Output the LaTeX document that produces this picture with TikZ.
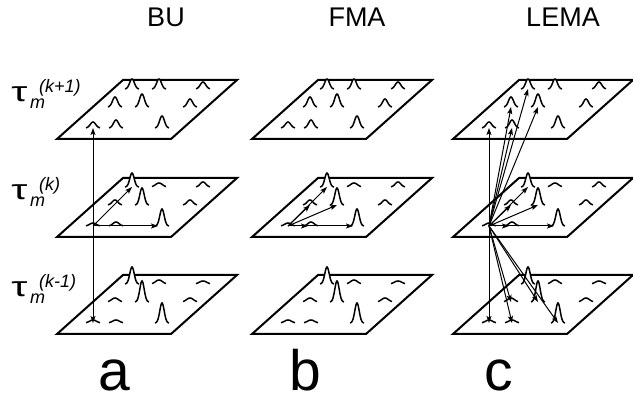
\documentclass[tikz,border=0pt]{standalone}
\usepackage{fontspec}
\setmainfont{Liberation Sans}
\usetikzlibrary{arrows.meta}
\tikzset{
  plane/.style={line width=2pt, line join=miter},
  peak/.style={line width=1.5pt},
  arr/.style={line width=1pt, -{Stealth[length=7pt,width=5pt,inset=1.5pt]}},
  head/.style={font=\fontsize{27}{30}\selectfont, anchor=base, inner sep=0pt},
  big/.style={font=\fontsize{57}{60}\selectfont, anchor=base, inner sep=0pt, text depth=0pt},
  taulab/.style={font=\fontsize{28}{30}\selectfont, anchor=base west, inner sep=0pt, xscale=1.45},
  sublab/.style={font=\fontsize{18}{19}\selectfont\itshape, anchor=base west, inner sep=0pt},
}
\newcommand{\pk}[4]{%
  \fill[white] plot[domain=-7:7,samples=29,smooth] ({#1+\x},{#2-(#3)*exp(-(\x)*(\x)/(2*(#4)*(#4)))}) -- cycle;
  \draw[peak] plot[domain=-7:7,samples=29,smooth] ({#1+\x},{#2-(#3)*exp(-(\x)*(\x)/(2*(#4)*(#4)))});
}
\def\peaksTop{36/-11/6/2.7, 59/-11/8/2.5, 105/-11/12/2.4, 58/-32/10/2.5, 85/-32/13/2.4, 133/-32/8/2.5, 75/-50/10/2.4, 102/-50/10/2.4, 146/-50/7/2.7}
\def\peaksMid{36/-11/3/3.2, 59/-11/4/3, 105/-11/17/2.2, 58/-32/5/2.8, 85/-32/17/2.2, 133/-32/5/2.8, 75/-50/14/2.2, 102/-50/4/3.4, 146/-50/5/2.8}
\def\peaksBot{36/-11/3/3.4, 59/-11/3/3.4, 105/-11/20/2.2, 58/-32/4/3.4, 85/-32/21/2.2, 133/-32/4/3.4, 75/-50/17/2.2, 102/-50/4/3.4, 146/-50/3/3.6}
\begin{document}
\begin{tikzpicture}[x=1pt,y=-1pt]
\useasboundingbox (0,0) rectangle (633,398);
% planes and peaks
\foreach \c/\X in {a/57,b/252,c/453}{
  \foreach \L/\Y in {1/139,2/237,3/334}{
    \draw[plane] (\X,\Y) -- ++(114,0) -- ++(66,-59) -- ++(-114,0) -- cycle;
    \coordinate (\c\L f1) at (\X+36,\Y-11);
    \coordinate (\c\L f2) at (\X+59,\Y-11);
    \coordinate (\c\L f3) at (\X+105,\Y-11);
    \coordinate (\c\L m1) at (\X+58,\Y-32);
    \coordinate (\c\L m2) at (\X+85,\Y-32);
    \coordinate (\c\L b1) at (\X+75,\Y-50);
  }
  \foreach \dx/\dy/\h/\s in \peaksTop {\pk{\X+\dx}{139+\dy}{\h}{\s}}
  \foreach \dx/\dy/\h/\s in \peaksMid {\pk{\X+\dx}{237+\dy}{\h}{\s}}
  \foreach \dx/\dy/\h/\s in \peaksBot {\pk{\X+\dx}{334+\dy}{\h}{\s}}
}
% BU
\draw[arr] (a2f1) -- (a1f1);
\draw[arr] (a2f1) -- (a3f1);
\draw[arr] (a2f1) -- (a2b1);
\draw[arr, shorten >=4pt] (a2f1) -- (a2f3);
% FMA
\draw[arr, shorten >=3pt] (b2f1) -- (b2f2);
\draw[arr, shorten >=4pt] (b2f1) -- (b2f3);
\draw[arr] (b2f1) -- (b2m1);
\draw[arr] (b2f1) -- (b2m2);
\draw[arr] (b2f1) -- (b2b1);
% LEMA
\draw[arr, shorten >=3pt] (c2f1) -- (c2f2);
\draw[arr, shorten >=4pt] (c2f1) -- (c2f3);
\draw[arr] (c2f1) -- (c2m1);
\draw[arr] (c2f1) -- (c2m2);
\draw[arr] (c2f1) -- (c2b1);
\draw[arr] (c2f1) -- (c1f1);
\draw[arr] (c2f1) -- (c1f2);
\draw[arr] (c2f1) -- (c1m1);
\draw[arr] (c2f1) -- (c1b1);
\draw[arr] (c2f1) -- (c1m2);
\draw[arr] (c2f1) -- (c3f1);
\draw[arr] (c2f1) -- (c3f2);
\draw[arr] (c2f1) -- (c3m1);
\draw[arr] (c2f1) -- (c3m2);
\draw[arr] (c2f1) -- (c3f3);
% titles
\node[head] (tbu) at (166,27) {BU};
\node[head] (tfma) at (357,27) {FMA};
\node[head] (tlema) at (563,27) {LEMA};
\node[big] (la) at (114,391) {a};
\node[big] (lb) at (305,391) {b};
\node[big] (lc) at (499,391) {c};
% level labels
\node[taulab] (t1) at (11,102) {τ};
\node[sublab] (s1) at (30,109) {m};
\node[sublab] (u1) at (39,93) {(k+1)};
\node[taulab] (t2) at (11,200) {τ};
\node[sublab] (s2) at (30,207) {m};
\node[sublab] (u2) at (39,191) {(k)};
\node[taulab] (t3) at (11,297) {τ};
\node[sublab] (s3) at (30,304) {m};
\node[sublab] (u3) at (39,288) {(k-1)};
\end{tikzpicture}
\end{document}
